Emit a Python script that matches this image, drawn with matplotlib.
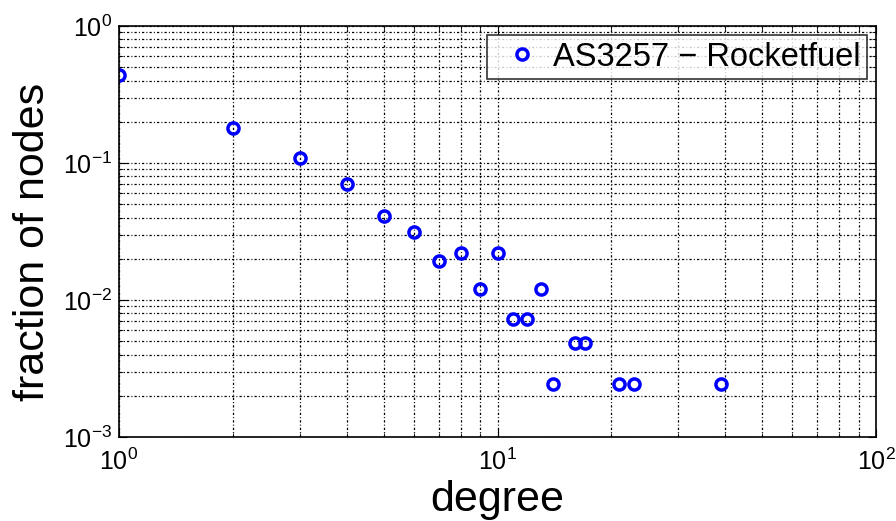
import matplotlib
matplotlib.use("Agg")
import matplotlib.pyplot as plt
from matplotlib.ticker import LogLocator, NullFormatter

plt.rcParams['font.family'] = ['Liberation Sans', 'DejaVu Sans']
plt.rcParams['mathtext.fontset'] = 'custom'
plt.rcParams['mathtext.rm'] = 'Liberation Sans'
plt.rcParams['mathtext.it'] = 'Liberation Sans'
plt.rcParams['mathtext.default'] = 'regular'

degree = [1, 2, 3, 4, 5, 6, 7, 8, 9, 10, 11, 12, 13, 14, 16, 17, 21, 23, 39]
fraction = [0.44, 0.18, 0.109, 0.0703, 0.041, 0.0313, 0.0193, 0.022, 0.012,
            0.022, 0.00727, 0.00727, 0.012, 0.00245, 0.00485, 0.00485,
            0.00245, 0.00245, 0.00245]
label = 'AS3257 \u2212 Rocketfuel'

fig = plt.figure(figsize=(8.96, 5.21), dpi=100)
ax = fig.add_axes([0.1328, 0.1612, 0.8449, 0.7888])

ax.plot(degree, fraction, 'o', mfc='none', mec='blue', mew=2.5, ms=8, label=label)

ax.set_xscale('log')
ax.set_yscale('log')
ax.set_xlim(1, 100)
ax.set_ylim(1e-3, 1)

ax.xaxis.set_major_locator(LogLocator(base=10))
ax.yaxis.set_major_locator(LogLocator(base=10))
ax.xaxis.set_minor_locator(LogLocator(base=10, subs=range(2, 10)))
ax.yaxis.set_minor_locator(LogLocator(base=10, subs=range(2, 10)))
ax.xaxis.set_minor_formatter(NullFormatter())
ax.yaxis.set_minor_formatter(NullFormatter())

# matlab style dotted grid
ax.grid(True, which='both', color='black', linestyle=(0, (1.8, 1.7, 0.8, 1.7)),
        linewidth=0.9)
ax.tick_params(which='both', direction='in', top=True, right=True)
ax.tick_params(which='major', length=6, labelsize=18)
ax.tick_params(axis='x', which='major', pad=8)
ax.tick_params(axis='y', which='major', pad=5)
ax.tick_params(which='minor', length=3)
for s in ax.spines.values():
    s.set_linewidth(1.2)

ax.set_xlabel('degree', fontsize=31, labelpad=4)
ax.set_ylabel('fraction of nodes', fontsize=31)
ax.yaxis.set_label_coords(-0.087, 0.474)

leg = ax.legend(loc='upper right', fontsize=23.5, frameon=True, fancybox=False,
                edgecolor='black', borderpad=0.2, handletextpad=0.05,
                handlelength=1.78, borderaxespad=0.28)
leg.get_frame().set_linewidth(1.2)

fig.savefig('out.png', dpi=100)
